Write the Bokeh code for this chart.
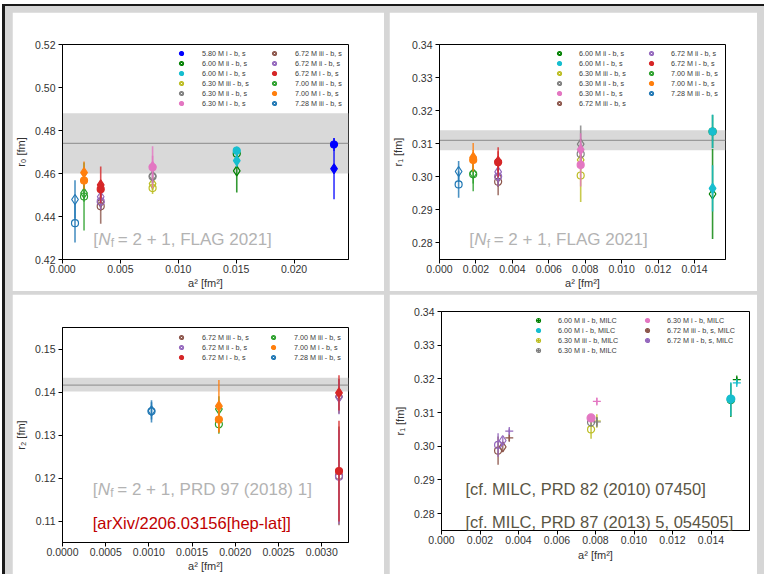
import numpy as np
from bokeh.plotting import figure
from bokeh.models import (Range1d, FixedTicker, PrintfTickFormatter, BoxAnnotation, Span,
                          Label, Legend, LegendItem, Row, Column)
from bokeh.embed import file_html
from bokeh.resources import INLINE

# ---------------- data ----------------
# panel 1: r0
r0_labels = ["5.80 M i - b, s", "6.00 M ii - b, s", "6.00 M i - b, s", "6.30 M iii - b, s",
             "6.30 M ii - b, s", "6.30 M i - b, s", "6.72 M iii - b, s", "6.72 M ii - b, s",
             "6.72 M i - b, s", "7.00 M iii - b, s", "7.00 M i - b, s", "7.28 M iii - b, s"]
r0_a2 = [0.02345, 0.01505, 0.01505, 0.00778, 0.00778, 0.00778, 0.00330, 0.00330, 0.00330,
         0.00186, 0.00186, 0.00108]
r0_b = [0.4735, 0.4692, 0.4706, 0.4532, 0.4586, 0.4629, 0.4448, 0.4470, 0.4527, 0.4493, 0.4567, 0.4369]
r0_b_err = [0.0030, 0.0030, 0.0020, 0.0027, 0.0030, 0.0098, 0.0082, 0.0040, 0.0040, 0.0158, 0.0040, 0.0090]
r0_s = [0.4622, 0.4612, 0.4660, 0.4553, 0.4588, 0.4632, 0.4467, 0.4492, 0.4547, 0.4509, 0.4604, 0.4479]
r0_s_err = [0.0142, 0.0100, 0.0030, 0.0030, 0.0030, 0.0050, 0.0040, 0.0030, 0.0085, 0.0040, 0.0052, 0.0090]
r0_band = [0.474, 0.460, 0.488]

# panel 2: r1
r1_labels = ["6.00 M ii - b, s", "6.00 M i - b, s", "6.30 M iii - b, s", "6.30 M ii - b, s",
             "6.30 M i - b, s", "6.72 M iii - b, s", "6.72 M ii - b, s", "6.72 M i - b, s",
             "7.00 M iii - b, s", "7.00 M i - b, s", "7.28 M iii - b, s"]
r1_a2 = [0.01499, 0.01499, 0.00775, 0.00775, 0.00775, 0.00322, 0.00322, 0.00322, 0.00185, 0.00185, 0.00105]
r1_b = [0.3137, 0.3137, 0.3004, 0.3069, 0.3036, 0.2985, 0.3001, 0.3044, 0.3008, 0.3051, 0.2977]
r1_b_err = [0.0050, 0.0051, 0.0080, 0.0030, 0.0065, 0.0041, 0.0030, 0.0045, 0.0052, 0.0030, 0.0040]
r1_s = [0.2948, 0.2965, 0.3051, 0.3099, 0.3082, 0.2999, 0.3015, 0.3047, 0.3010, 0.3059, 0.3016]
r1_s_err = [0.0136, 0.0070, 0.0030, 0.0056, 0.0050, 0.0030, 0.0030, 0.0030, 0.0030, 0.0043, 0.0032]
r1_band = [0.311, 0.3080, 0.3141]

# panel 3: r2
r2_labels = ["6.72 M iii - b, s", "6.72 M ii - b, s", "6.72 M i - b, s",
             "7.00 M iii - b, s", "7.00 M i - b, s", "7.28 M iii - b, s"]
r2_a2 = [0.00320, 0.00320, 0.00320, 0.00181, 0.00181, 0.00103]
r2_b = [0.1205, 0.1203, 0.1216, 0.1325, 0.1336, 0.1355]
r2_b_err = [0.0115, 0.0110, 0.0117, 0.0022, 0.0030, 0.0026]
r2_s = [0.1390, 0.1388, 0.1398, 0.1360, 0.1367, 0.1356]
r2_s_err = [0.0040, 0.0040, 0.0041, 0.0030, 0.0061, 0.0020]
r2_band = [0.1416, 0.1401, 0.1433]

# panel 4: r1 compared with MILC
m_labels = ["6.00 M ii - b, MILC", "6.00 M i - b, MILC", "6.30 M iii - b, MILC", "6.30 M ii - b, MILC",
            "6.30 M i - b, MILC", "6.72 M iii - b, s, MILC", "6.72 M ii - b, s, MILC"]
m_b_a2 = [0.01503, 0.01503, 0.00777, 0.00777, 0.00777, 0.00294, 0.00294]
m_b = [0.3137, 0.3140, 0.3050, 0.3071, 0.3084, 0.2987, 0.3004]
m_b_err = [0.0050, 0.0050, 0.0028, 0.0012, 0.0012, 0.0042, 0.0035]
m_s_a2 = [None, None, None, None, None, 0.00318, 0.00318]
m_s = [None, None, None, None, None, 0.2998, 0.3017]
m_s_err = [None, None, None, None, None, 0.0015, 0.0012]
m_milc_a2 = [0.01534, 0.01534, 0.00807, 0.00807, 0.00807, 0.00352, 0.00352]
m_milc = [0.3198, 0.3188, 0.3075, 0.3072, 0.3133, 0.3025, 0.3045]
m_milc_err = [0.0008, 0.0008, 0.0020, 0.0015, 0.0010, 0.0010, 0.0008]

# ticks
ticks_x1 = [0.0, 0.005, 0.010, 0.015, 0.020]
ticks_y1 = [0.42, 0.44, 0.46, 0.48, 0.50, 0.52]
ticks_x2 = [0.0, 0.002, 0.004, 0.006, 0.008, 0.010, 0.012, 0.014]
ticks_y2 = [0.28, 0.29, 0.30, 0.31, 0.32, 0.33, 0.34]
ticks_x3 = [0.0, 0.0005, 0.0010, 0.0015, 0.0020, 0.0025, 0.0030]
ticks_y3 = [0.11, 0.12, 0.13, 0.14, 0.15]

# ---------------- style ----------------
COL = {
    "5.80 M i": "#0000ff", "6.00 M ii": "#008000", "6.00 M i": "#17becf",
    "6.30 M iii": "#bcbd22", "6.30 M ii": "#7f7f7f", "6.30 M i": "#e377c2",
    "6.72 M iii": "#8c564b", "6.72 M ii": "#9467bd", "6.72 M i": "#d62728",
    "7.00 M iii": "#2ca02c", "7.00 M i": "#ff7f0e", "7.28 M iii": "#1f77b4",
}
FONT = "Liberation Sans"
BAND = "#d9d9d9"


def key_of(label):
    return label.split(" - ")[0]


def make_fig(w, h, bl, br, bt, bb, xr, yr, xt, yt, xfmt, yfmt, ylabel):
    p = figure(width=w, height=h, output_backend="svg", toolbar_location=None,
               x_range=Range1d(*xr), y_range=Range1d(*yr),
               min_border_left=bl, min_border_right=br, min_border_top=bt, min_border_bottom=bb)
    p.grid.visible = False
    p.outline_line_color = "black"
    p.outline_line_alpha = 1
    p.outline_line_width = 1
    p.background_fill_color = "white"
    p.border_fill_color = "white"
    p.xaxis.ticker = FixedTicker(ticks=xt)
    p.yaxis.ticker = FixedTicker(ticks=yt)
    p.xaxis.formatter = PrintfTickFormatter(format=xfmt)
    p.yaxis.formatter = PrintfTickFormatter(format=yfmt)
    p.xaxis.axis_label = "a\u00b2 [fm\u00b2]"
    p.yaxis.axis_label = ylabel
    for ax in (p.xaxis[0], p.yaxis[0]):
        ax.major_tick_in = 0
        ax.major_tick_out = 4
        ax.minor_tick_line_color = None
        ax.axis_line_color = "black"
        ax.major_tick_line_color = "black"
        ax.major_label_text_font = FONT
        ax.major_label_text_font_size = "10.5px"
        ax.major_label_text_color = "#333333"
        ax.major_label_standoff = 1
        ax.axis_label_text_font = FONT
        ax.axis_label_text_font_size = "11px"
        ax.axis_label_text_font_style = "normal"
        ax.axis_label_text_color = "#333333"
        ax.axis_label_standoff = 1
    p.yaxis[0].major_label_standoff = 3
    p.yaxis[0].axis_label_standoff = 5
    return p


def add_band(p, band):
    c, lo, hi = band
    p.add_layout(BoxAnnotation(bottom=lo, top=hi, fill_color=BAND, fill_alpha=1,
                               line_color=None, level="underlay"))
    p.add_layout(Span(location=c, dimension="width", line_color="#9a9a9a",
                      line_width=1.2, level="underlay"))


def errbar(p, x, y, e, c, alpha=0.8):
    p.segment(x0=[x], y0=[y - e], x1=[x], y1=[y + e], line_color=c, line_width=1.6, line_alpha=alpha)


def marker(p, x, y, kind, c, filled, size):
    return p.scatter([x], [y], marker=kind, size=size, line_color=c, line_width=1.2,
                     fill_color=(c if filled else None))


def draw_bs(p, labels, a2, b, be, s, se):
    items = []
    for i, lab in enumerate(labels):
        k = key_of(lab)
        c = COL[k]
        filled = k.endswith(" i")
        errbar(p, a2[i], b[i], be[i], c)
        errbar(p, a2[i], s[i], se[i], c)
        r1 = marker(p, a2[i], b[i], "circle", c, filled, 7)
        r2 = marker(p, a2[i], s[i], "diamond", c, filled, 10)
        items.append(LegendItem(label=lab, renderers=[r1, r2]))
    return items


def add_legend(p, items, x, y, standoff=12, size="7.2px"):
    lg = Legend(items=items, location=(x, y), orientation="vertical", padding=0, margin=0,
                spacing=0, glyph_width=16, glyph_height=10, label_height=10,
                label_standoff=standoff, label_text_font=FONT, label_text_font_size=size,
                label_text_color="#3a3a3a", background_fill_alpha=0, border_line_alpha=0)
    p.add_layout(lg)


def nf_text(p, x, y, rest, color="#b3b3b3", size=17):
    common = dict(x=x, y=y, text_font=FONT, text_color=color, text_baseline="alphabetic")
    p.add_layout(Label(text="[", x_offset=0, text_font_size=f"{size}px", **common))
    p.add_layout(Label(text="N", x_offset=5, text_font_size=f"{size}px", text_font_style="italic", **common))
    p.add_layout(Label(text="f", x_offset=17.5, y_offset=-4, text_font_size="12px", **common))
    p.add_layout(Label(text=rest, x_offset=24.5, text_font_size=f"{size}px", **common))


# ---------------- panel 1 ----------------
p1 = make_fig(372, 279, 46, 36, 32, 32, (0.0, 0.0247), (0.42, 0.52), ticks_x1, ticks_y1,
              "%.3f", "%.2f", "r\u2080 [fm]")
add_band(p1, r0_band)
it1 = draw_bs(p1, r0_labels, r0_a2, r0_b, r0_b_err, r0_s, r0_s_err)
add_legend(p1, it1[:6], 111, 151, 13)
add_legend(p1, it1[6:], 204, 151, 13)
nf_text(p1, 0.00266, 0.4294, " = 2 + 1, FLAG 2021]")

# ---------------- panel 2 ----------------
p2 = make_fig(368, 279, 46, 32, 32, 32, (0.0, 0.0157), (0.275, 0.34), ticks_x2, ticks_y2,
              "%.3f", "%.2f", "r\u2081 [fm]")
add_band(p2, r1_band)
it2 = draw_bs(p2, r1_labels, r1_a2, r1_b, r1_b_err, r1_s, r1_s_err)
add_legend(p2, it2[:6], 112, 151)
add_legend(p2, it2[6:], 204, 161)
nf_text(p2, 0.00163, 0.2810, " = 2 + 1, FLAG 2021]")

# ---------------- panel 3 ----------------
p3 = make_fig(372, 280, 47, 36, 33, 32, (0.0, 0.00331), (0.105, 0.155), ticks_x3, ticks_y3,
              "%.4f", "%.2f", "r\u2082 [fm]")
add_band(p3, r2_band)
it3 = draw_bs(p3, r2_labels, r2_a2, r2_b, r2_b_err, r2_s, r2_s_err)
add_legend(p3, it3[:3], 111, 180, 13)
add_legend(p3, it3[3:], 203, 180, 13)
nf_text(p3, 0.00035, 0.11734, " = 2 + 1, PRD 97 (2018) 1]")
p3.add_layout(Label(x=0.00035, y=0.10959, text="[arXiv/2206.03156[hep-lat]]", text_font=FONT,
                    text_font_size="16.5px", text_color="#c00000", text_baseline="alphabetic"))

# ---------------- panel 4 ----------------
p4 = make_fig(368, 280, 52, 8, 17, 44, (0.0, 0.016), (0.275, 0.34), ticks_x2, ticks_y2,
              "%.3f", "%.2f", "r\u2081 [fm]")
it4 = []
for i, lab in enumerate(m_labels):
    k = key_of(lab)
    c = COL[k]
    filled = k.endswith(" i")
    rs = []
    errbar(p4, m_b_a2[i], m_b[i], m_b_err[i], c)
    rs.append(marker(p4, m_b_a2[i], m_b[i], "circle", c, filled, 8 if filled else 7))
    if m_s[i] is not None:
        errbar(p4, m_s_a2[i], m_s[i], m_s_err[i], c)
        rs.append(marker(p4, m_s_a2[i], m_s[i], "diamond", c, filled, 10))
    errbar(p4, m_milc_a2[i], m_milc[i], m_milc_err[i], c)
    rs.append(marker(p4, m_milc_a2[i], m_milc[i], "cross", c, False, 8))
    it4.append(LegendItem(label=lab, renderers=rs))
add_legend(p4, it4[:4], 89, 175, 12)
add_legend(p4, it4[4:], 198, 185, 12)
p4.xaxis[0].axis_label_standoff = 2
for yy, txt in [(0.28724, "[cf.  MILC, PRD 82 (2010) 07450]"),
                (0.27758, "[cf.  MILC, PRD 87 (2013) 5, 054505]")]:
    p4.add_layout(Label(x=0.001245, y=yy, text=txt, text_font=FONT, text_font_size="16.5px",
                        text_color="#5a5544", text_baseline="alphabetic"))

top = Row(children=[Column(children=[p1]), Column(children=[p2])], spacing=5)
bottom = Row(children=[Column(children=[p3]), Column(children=[p4])], spacing=5)
page = Column(children=[top, bottom], spacing=3,
              styles={"background-color": "#d6d6d6", "padding": "6px 7px 0px 7px",
                      "border-left": "3px solid #1a1a1a", "border-top": "2px solid #1a1a1a",
                      "margin-left": "2px", "margin-top": "4px"})

open("out.html", "w").write(file_html(page, INLINE))
